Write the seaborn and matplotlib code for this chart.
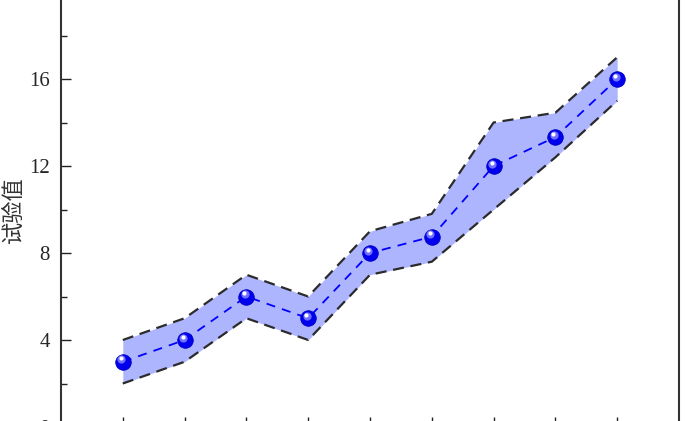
import numpy as np
import pandas as pd
import matplotlib
matplotlib.use("Agg")
import matplotlib.pyplot as plt
import matplotlib.transforms as mtransforms
import seaborn as sns

# values
x = [1, 2, 3, 4, 5, 6, 7, 8, 9]
mean = [3, 4, 6, 5, 8, 8.75, 12, 13.33, 16]
upper = [4, 5, 7, 6, 9, 9.8, 14, 14.45, 17]
lower = [2, 3, 5, 4, 7, 7.6, 10, 12.4, 15]
ylabel = "试验值"

df = pd.DataFrame({"x": x, "mean": mean, "upper": upper, "lower": lower})

sns.set_style("ticks")
plt.rcParams['font.family'] = ['Liberation Serif', 'Noto Sans CJK SC']

fig = plt.figure(figsize=(7, 4.21), dpi=100)
# axes runs a bit past the picture edges (the original is a crop)
ax = fig.add_axes([61/700, -6/421, 618/700, 435/421])

ax.fill_between(df.x, df.lower, df.upper, color="#aeb5ff", lw=0, zorder=1)
sns.lineplot(data=df, x="x", y="upper", ax=ax, color="#2b2b2b", lw=1.6, zorder=2)
ax.lines[-1].set_dashes([5, 3])
sns.lineplot(data=df, x="x", y="lower", ax=ax, color="#2b2b2b", lw=1.6, zorder=2)
ax.lines[-1].set_dashes([5, 3])
sns.lineplot(data=df, x="x", y="mean", ax=ax, color="#0000ff", lw=1.3, zorder=3)
ax.lines[-1].set_dashes([5, 4])

# ball markers with a small highlight
ax.scatter(df.x, df["mean"], s=125, color="#0000ee", edgecolor="#0000c0",
           lw=0.6, zorder=4)
hl = mtransforms.offset_copy(ax.transData, fig=fig, x=-1.2, y=1.8, units="points")
ax.scatter(df.x, df["mean"], s=35, color="#7070ff", lw=0, zorder=5, transform=hl)
hl2 = mtransforms.offset_copy(ax.transData, fig=fig, x=-1.5, y=2.4, units="points")
ax.scatter(df.x, df["mean"], s=9, color="white", lw=0, zorder=6, transform=hl2)

ax.set_xlim(0, 10)
ax.set_ylim(0, 20)
ax.set_xticks(x)
ax.set_yticks([0, 4, 8, 12, 16])
ax.set_yticks([2, 6, 10, 14, 18], minor=True)
ax.tick_params(axis="both", which="major", direction="in", length=7, width=1,
               labelsize=15, pad=8, color="#222222")
ax.tick_params(axis="y", which="minor", direction="in", length=4, width=1,
               color="#222222")
ax.tick_params(top=False, right=False)
ax.set_xlabel("")
ax.set_ylabel(ylabel, fontsize=16, family=['Noto Sans CJK SC'], color="#333333")
ax.yaxis.set_label_coords(-0.058, 0.5)
for s in ax.spines.values():
    s.set_linewidth(1.5)
    s.set_color("#333333")

fig.savefig("out.png", dpi=100)
